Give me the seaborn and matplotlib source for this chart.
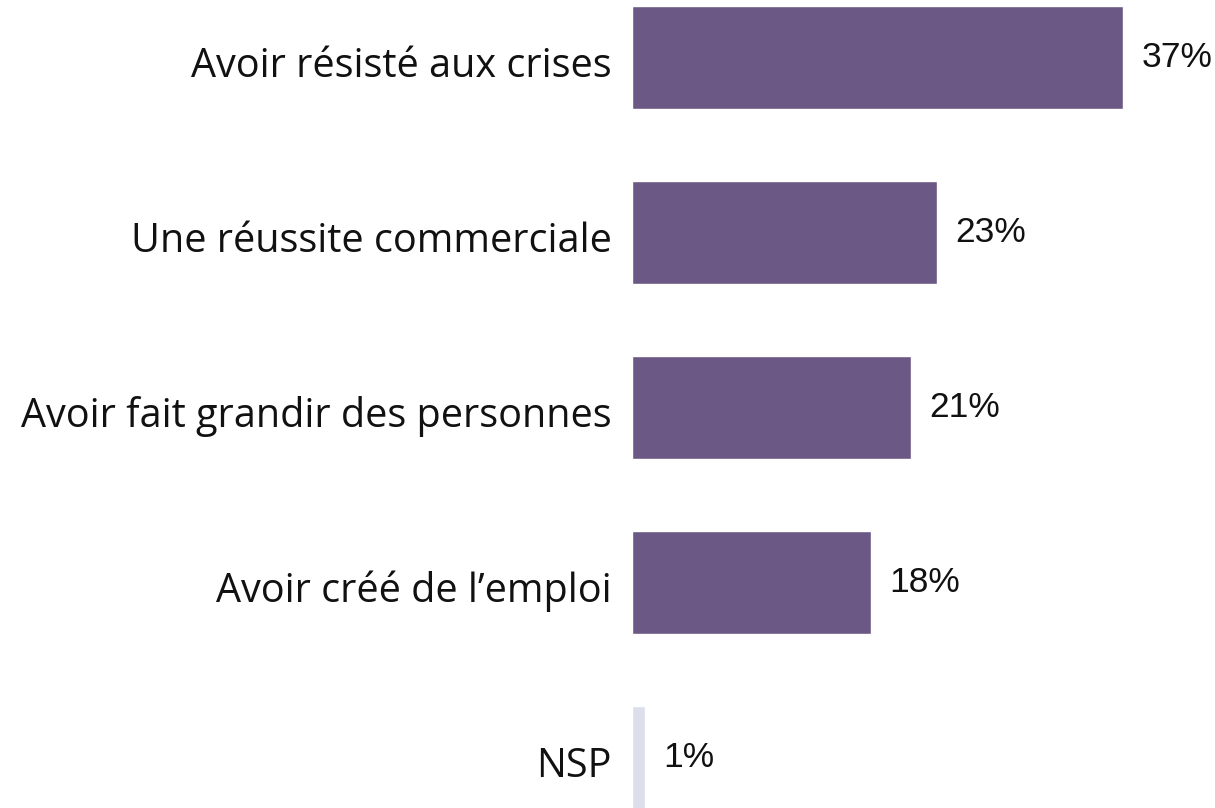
import matplotlib
matplotlib.use("Agg")
import matplotlib.pyplot as plt
import matplotlib.transforms as mtransforms
import seaborn as sns
import pandas as pd

categories = ["Avoir résisté aux crises", "Une réussite commerciale",
              "Avoir fait grandir des personnes", "Avoir créé de l’emploi", "NSP"]
values = [37, 23, 21, 18, 1]
value_labels = ["37%", "23%", "21%", "18%", "1%"]
colors = ["#6b5885", "#6b5885", "#6b5885", "#6b5885", "#dcdfeb"]

sns.set_theme(style="white")
plt.rcParams['font.family'] = ['Open Sans', 'DejaVu Sans']

df = pd.DataFrame({"cat": categories, "val": values})

fig = plt.figure(figsize=(12.15, 8.08), dpi=100)
ax = fig.add_axes([632/1215, 0, 531/1215, 1])
sns.barplot(data=df, x="val", y="cat", hue="cat", palette=colors, legend=False,
            orient="h", width=0.594, ax=ax, saturation=1)

ax.set_xlim(0, 40)
ax.set_ylim(-0.3286 + 808/175, -0.3286)
for i, cont in enumerate(ax.containers):
    ax.bar_label(cont, labels=[value_labels[i]], padding=13, fontsize=25.5,
                 color="#111111", family=['Liberation Sans', 'DejaVu Sans'])

ax.set_xlabel("")
ax.set_ylabel("")
ax.set_xticks([])
ax.tick_params(axis="y", length=0, pad=14.4, labelsize=28.5, labelcolor="#111111")
offset = mtransforms.ScaledTranslation(0, -4/100, fig.dpi_scale_trans)
for lbl in ax.get_yticklabels():
    lbl.set_transform(lbl.get_transform() + offset)
for s in ax.spines.values():
    s.set_visible(False)

fig.savefig("out.png", dpi=100)
